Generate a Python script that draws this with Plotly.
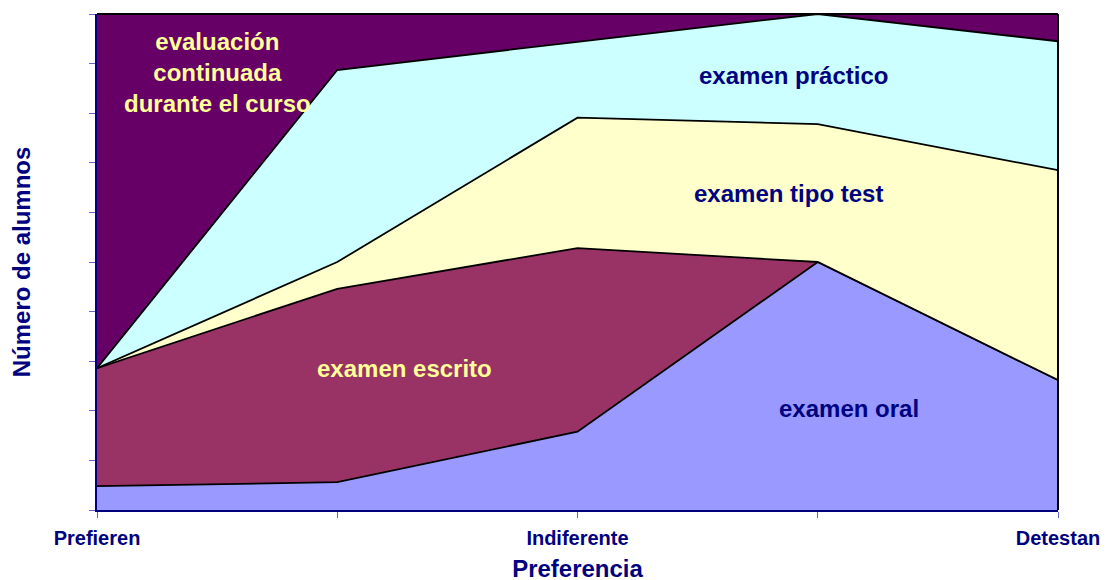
import plotly.graph_objects as go

# categories along the x axis (only 1st, 3rd and 5th carry a label)
categorias = ["Prefieren", "p2", "Indiferente", "p4", "Detestan"]
etiquetas = ["Prefieren", "", "Indiferente", "", "Detestan"]

# stacked values (bottom layer first)
examen_oral = [0.48, 0.56, 1.58, 5.00, 2.62]
examen_escrito = [2.38, 3.90, 3.70, 0.00, 0.00]
examen_tipo_test = [0.00, 0.54, 2.63, 2.78, 4.23]
examen_practico = [0.00, 3.87, 1.53, 2.22, 2.60]
evaluacion_continuada = [7.14, 1.13, 0.56, 0.00, 0.55]

NAVY = "#000080"
AMARILLO = "#FFFF99"

series = [
    ("examen oral", examen_oral, "#9999FF"),
    ("examen escrito", examen_escrito, "#993366"),
    ("examen tipo test", examen_tipo_test, "#FFFFCC"),
    ("examen práctico", examen_practico, "#CCFFFF"),
    ("evaluación continuada durante el curso", evaluacion_continuada, "#660066"),
]

x = list(range(len(categorias)))

fig = go.Figure()
for nombre, valores, color in series:
    fig.add_trace(go.Scatter(
        x=x, y=valores, name=nombre, mode="lines",
        stackgroup="uno", fillcolor=color,
        line=dict(color="black", width=1.8),
        hoverinfo="name+y",
    ))

# labels inside the areas
textos = [
    ("evaluación<br>continuada<br>durante el curso", 0.50, 8.83, AMARILLO),
    ("examen práctico", 2.90, 8.77, NAVY),
    ("examen tipo test", 2.88, 6.39, NAVY),
    ("examen escrito", 1.28, 2.86, AMARILLO),
    ("examen oral", 3.13, 2.04, NAVY),
]
for txt, ax, ay, col in textos:
    fig.add_annotation(x=ax, y=ay, text="<b>%s</b>" % txt, showarrow=False,
                       font=dict(size=24, color=col), align="center")

# black frame on top and right side
fig.add_shape(type="line", xref="paper", yref="paper", x0=0, x1=1, y0=1, y1=1,
              line=dict(color="black", width=2))
fig.add_shape(type="line", xref="paper", yref="paper", x0=1, x1=1, y0=0, y1=1,
              line=dict(color="black", width=2))

fig.update_layout(
    width=1109, height=580,
    margin=dict(l=89, r=59, t=6, b=78),
    paper_bgcolor="white", plot_bgcolor="white",
    font=dict(family="Liberation Sans, Arial, sans-serif", color=NAVY),
    showlegend=False,
    xaxis=dict(
        range=[0, 4], tickvals=x, ticktext=["<b>%s</b>" % t for t in etiquetas],
        tickfont=dict(size=20, color=NAVY), ticklabelstandoff=3,
        ticks="outside", ticklen=6, tickcolor="#6666CC",
        showline=True, linecolor=NAVY, linewidth=2,
        showgrid=False, zeroline=False, automargin=False,
        title=dict(text="<b>Preferencia</b>", font=dict(size=24, color=NAVY), standoff=12),
    ),
    yaxis=dict(
        range=[0, 10], dtick=1, showticklabels=False,
        ticks="outside", ticklen=6, tickcolor="#6666CC",
        showline=True, linecolor=NAVY, linewidth=2,
        showgrid=False, zeroline=False, automargin=False,
        title=dict(text="<b>Número de alumnos</b>", font=dict(size=24, color=NAVY), standoff=52),
    ),
)

fig.write_html("out.html")
